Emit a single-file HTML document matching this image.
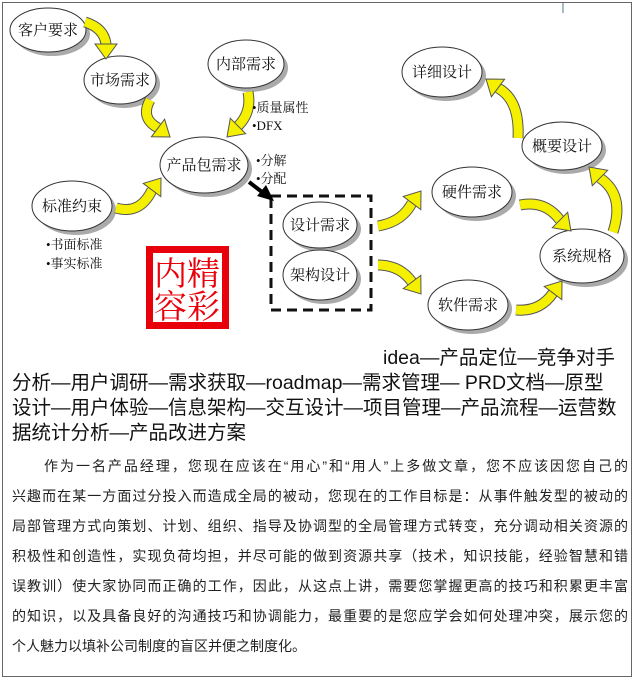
<!DOCTYPE html>
<html><head><meta charset="utf-8"><style>
html,body{margin:0;padding:0;background:#fff;}
body{width:639px;height:680px;position:relative;overflow:hidden;}
.frame{position:absolute;left:2px;top:2px;width:630px;height:675px;border:1px solid #666;box-sizing:border-box;}
svg{position:absolute;left:0;top:0;}
.t{position:absolute;font-family:"Liberation Sans","Noto Sans CJK SC",sans-serif;font-size:19.5px;color:#111;white-space:nowrap;line-height:25px;}
.p{position:absolute;left:12px;width:616px;font-family:"Liberation Sans","Noto Sans CJK SC",sans-serif;font-size:14px;color:#222;line-height:30px;}
.p div{text-align:justify;text-align-last:justify;white-space:nowrap;}
</style></head><body>
<div class="frame"></div>
<svg width="639" height="340" viewBox="0 0 639 340">
<defs><style>
.e text{font-family:"Liberation Serif","Noto Serif CJK SC",serif;font-size:15px;fill:#111;text-anchor:middle;}
.b{font-family:"Liberation Serif","Noto Serif CJK SC",serif;font-size:13px;fill:#111;}
</style></defs>
<g class="e">
<g><ellipse cx="52" cy="34" rx="38" ry="22" fill="#aaa"/><ellipse cx="48" cy="30" rx="38" ry="22" fill="#fff" stroke="#333"/><text x="48" y="35">客户要求</text></g>
<g><ellipse cx="124" cy="84" rx="36" ry="24" fill="#aaa"/><ellipse cx="120" cy="80" rx="36" ry="24" fill="#fff" stroke="#333"/><text x="120" y="85">市场需求</text></g>
<g><ellipse cx="250" cy="68" rx="38" ry="24" fill="#aaa"/><ellipse cx="246" cy="64" rx="38" ry="24" fill="#fff" stroke="#333"/><text x="246" y="69">内部需求</text></g>
<g><ellipse cx="208" cy="169" rx="44" ry="28" fill="#aaa"/><ellipse cx="204" cy="165" rx="44" ry="28" fill="#fff" stroke="#333"/><text x="204" y="170">产品包需求</text></g>
<g><ellipse cx="76" cy="210" rx="40" ry="25" fill="#aaa"/><ellipse cx="72" cy="206" rx="40" ry="25" fill="#fff" stroke="#333"/><text x="72" y="211">标准约束</text></g>
<g><ellipse cx="324" cy="229" rx="37" ry="23" fill="#aaa"/><ellipse cx="320" cy="225" rx="37" ry="23" fill="#fff" stroke="#333"/><text x="320" y="230">设计需求</text></g>
<g><ellipse cx="324" cy="279" rx="37" ry="25" fill="#aaa"/><ellipse cx="320" cy="275" rx="37" ry="25" fill="#fff" stroke="#333"/><text x="320" y="280">架构设计</text></g>
<g><ellipse cx="476" cy="196" rx="40" ry="25" fill="#aaa"/><ellipse cx="472" cy="192" rx="40" ry="25" fill="#fff" stroke="#333"/><text x="472" y="197">硬件需求</text></g>
<g><ellipse cx="472" cy="309" rx="40" ry="25" fill="#aaa"/><ellipse cx="468" cy="305" rx="40" ry="25" fill="#fff" stroke="#333"/><text x="468" y="310">软件需求</text></g>
<g><ellipse cx="586" cy="260" rx="42" ry="27" fill="#aaa"/><ellipse cx="582" cy="256" rx="42" ry="27" fill="#fff" stroke="#333"/><text x="582" y="261">系统规格</text></g>
<g><ellipse cx="566" cy="150" rx="40" ry="24" fill="#aaa"/><ellipse cx="562" cy="146" rx="40" ry="24" fill="#fff" stroke="#333"/><text x="562" y="151">概要设计</text></g>
<g><ellipse cx="446" cy="76" rx="40" ry="25" fill="#aaa"/><ellipse cx="442" cy="72" rx="40" ry="25" fill="#fff" stroke="#333"/><text x="442" y="77">详细设计</text></g>
</g>
<rect x="271" y="196" width="100" height="114" fill="none" stroke="#111" stroke-width="3" stroke-dasharray="10,6"/>
<g fill="none" stroke-linecap="butt">
<g stroke="#555" stroke-width="11">
<path d="M85,22 Q104,28 106,44"/><path d="M150,100 Q140,118 158,128"/><path d="M248,92 Q252,112 238,126"/><path d="M116,208 Q140,215 152,190"/>
<path d="M378,226 Q402,222 412,203"/><path d="M378,265 Q400,265 412,282"/><path d="M520,205 Q545,200 560,220"/><path d="M516,310 Q540,312 553,293"/>
<path d="M613,232 Q625,195 600,178"/><path d="M518,138 Q520,100 498,88"/></g>
<g stroke="#f5f000" stroke-width="9">
<path d="M85,22 Q104,28 106,44"/><path d="M150,100 Q140,118 158,128"/><path d="M248,92 Q252,112 238,126"/><path d="M116,208 Q140,215 152,190"/>
<path d="M378,226 Q402,222 412,203"/><path d="M378,265 Q400,265 412,282"/><path d="M520,205 Q545,200 560,220"/><path d="M516,310 Q540,312 553,293"/>
<path d="M613,232 Q625,195 600,178"/><path d="M518,138 Q520,100 498,88"/></g>
</g>
<g fill="#f5f000" stroke="#555" stroke-width="1">
<polygon points="95,44 117,44 106,59"/>
<polygon points="151.4,136.8 164.6,119.2 170,137"/>
<polygon points="245.7,133.7 230.3,118.3 227,137"/>
<polygon points="160.8,196.6 143.2,183.4 161,178"/>
<polygon points="420.8,209.6 403.2,196.4 421,191"/>
<polygon points="403.2,288.6 420.8,275.4 421,294"/>
<polygon points="552.3,227.7 567.7,212.3 571,231"/>
<polygon points="561.8,299.6 544.2,286.4 562,281"/>
<polygon points="607.7,170.3 592.3,185.7 589,167"/>
<polygon points="491.4,96.8 504.6,79.2 486,79"/>
</g>
<line x1="249" y1="182" x2="262" y2="192" stroke="#000" stroke-width="4"/>
<polygon points="257,196 266,185 274,201" fill="#000"/>
<text class="b" x="252" y="112">•质量属性</text>
<text class="b" x="252" y="130" font-family="Liberation Sans">•DFX</text>
<text class="b" x="256" y="165">•分解</text>
<text class="b" x="256" y="183">•分配</text>
<text class="b" x="46" y="249">•书面标准</text>
<text class="b" x="46" y="268">•事实标准</text>
<rect x="146" y="246" width="83" height="83" fill="#e8000a"/>
<rect x="153" y="253" width="69" height="69" fill="#fff"/>
<g font-family="Liberation Serif,'Noto Serif CJK SC',serif" font-size="33" fill="#e8000a">
<text x="154" y="285">内精</text><text x="154" y="318">容彩</text></g>
<line x1="563" y1="3" x2="563" y2="13" stroke="#4a7a8a" stroke-width="1"/>
</svg>
<div class="t" style="left:383px;top:346px;">idea—产品定位—竞争对手</div>
<div class="t" style="left:12px;top:371px;">分析—用户调研—需求获取—roadmap—需求管理— PRD文档—原型</div>
<div class="t" style="left:12px;top:396px;">设计—用户体验—信息架构—交互设计—项目管理—产品流程—运营数</div>
<div class="t" style="left:12px;top:421px;">据统计分析—产品改进方案</div>
<div class="p" style="top:451px;">
<div style="padding-left:32px;">作为一名产品经理，您现在应该在“用心”和“用人”上多做文章，您不应该因您自己的</div>
<div>兴趣而在某一方面过分投入而造成全局的被动，您现在的工作目标是：从事件触发型的被动的</div>
<div>局部管理方式向策划、计划、组织、指导及协调型的全局管理方式转变，充分调动相关资源的</div>
<div>积极性和创造性，实现负荷均担，并尽可能的做到资源共享（技术，知识技能，经验智慧和错</div>
<div>误教训）使大家协同而正确的工作，因此，从这点上讲，需要您掌握更高的技巧和积累更丰富</div>
<div>的知识，以及具备良好的沟通技巧和协调能力，最重要的是您应学会如何处理冲突，展示您的</div>
<div style="text-align-last:left;">个人魅力以填补公司制度的盲区并便之制度化。</div>
</div>
</body></html>
